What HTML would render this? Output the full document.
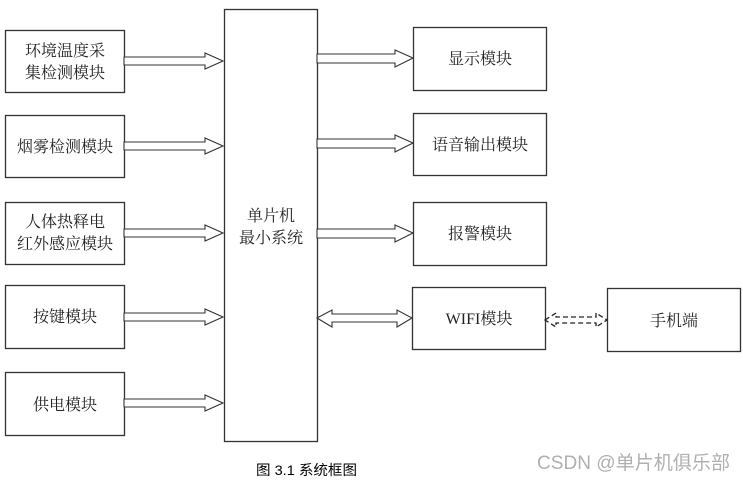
<!DOCTYPE html>
<html><head><meta charset="utf-8"><style>
html,body{margin:0;padding:0;background:#fff;}
svg{display:block;}
text{font-family:"Liberation Serif","Noto Serif CJK SC",serif;font-size:16px;fill:#222;}
</style></head><body>
<svg width="743" height="482" viewBox="0 0 743 482" xmlns="http://www.w3.org/2000/svg">
<g fill="#fff" stroke="#333" stroke-width="1.3">
<rect x="5.5" y="30.5" width="119" height="62"/>
<rect x="5.5" y="115.5" width="119" height="62"/>
<rect x="5.5" y="202.5" width="119" height="62"/>
<rect x="5.5" y="285.5" width="119" height="63"/>
<rect x="5.5" y="372.5" width="119" height="63"/>
<rect x="224.5" y="9.5" width="93" height="432"/>
<rect x="413.5" y="27.5" width="133" height="63"/>
<rect x="413.5" y="113.5" width="133" height="62"/>
<rect x="413.5" y="202.5" width="133" height="63"/>
<rect x="412.5" y="287.5" width="133" height="62"/>
<rect x="607.5" y="288.5" width="133" height="63"/>
</g>
<g fill="#fff" stroke="#333" stroke-width="1.1">
<polygon points="124,57 205,57 205,53 223,61 205,69 205,65 124,65"/>
<polygon points="124,142 205,142 205,138 223,146 205,154 205,150 124,150"/>
<polygon points="124,229 205,229 205,225 223,233 205,241 205,237 124,237"/>
<polygon points="124,313 205,313 205,309 223,317 205,325 205,321 124,321"/>
<polygon points="124,399 205,399 205,395 223,403 205,411 205,407 124,407"/>
<polygon points="317,54 395,54 395,50 413,58 395,67 395,63 317,63"/>
<polygon points="317,139 395,139 395,135 413,143 395,152 395,148 317,148"/>
<polygon points="317,229 395,229 395,225 413,233 395,242 395,238 317,238"/>
<polygon points="317,318 332,310 332,314 397,314 397,310 412,318 397,327 397,322 332,322 332,327"/>
</g>
<g fill="none" stroke="#222" stroke-width="1.3" stroke-dasharray="5,3">
<polygon points="545,320 556,313 556,317 596,317 596,313 607,320 596,327 596,323 556,323 556,327"/>
</g>
<g text-anchor="middle">
<text x="65" y="56">环境温度采</text>
<text x="65" y="78">集检测模块</text>
<text x="65" y="152">烟雾检测模块</text>
<text x="65" y="227">人体热释电</text>
<text x="65" y="249">红外感应模块</text>
<text x="65" y="322">按键模块</text>
<text x="65" y="410">供电模块</text>
<text x="271" y="221">单片机</text>
<text x="271" y="243">最小系统</text>
<text x="480" y="64">显示模块</text>
<text x="480" y="150">语音输出模块</text>
<text x="480" y="239">报警模块</text>
<text x="479" y="324">WIFI模块</text>
<text x="674" y="326">手机端</text>
</g>
<text x="256" y="475" textLength="101" lengthAdjust="spacingAndGlyphs" style="font-family:'Liberation Sans','Noto Sans CJK SC',sans-serif;font-size:14px;fill:#000">图 3.1  系统框图</text>
<text x="537" y="469" textLength="193" lengthAdjust="spacingAndGlyphs" style="font-family:'Liberation Sans','Noto Sans CJK SC',sans-serif;font-size:19px;fill:#b0b0b0">CSDN @单片机俱乐部</text>
</svg>
</body></html>
